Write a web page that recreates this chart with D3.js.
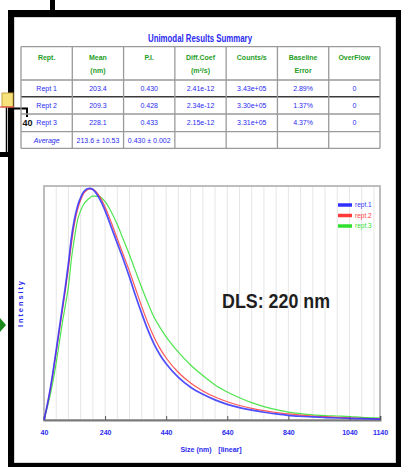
<!DOCTYPE html>
<html>
<head>
<meta charset="utf-8">
<script src="https://cdn.jsdelivr.net/npm/d3@7/dist/d3.min.js"></script>
<style>
  html, body { margin: 0; padding: 0; background: #fff; }
  svg { display: block; }
  .narrow { font-family: "Liberation Sans Narrow", "Arial Narrow", "Liberation Sans", Arial, sans-serif; }
</style>
</head>
<body>
<svg id="chart" width="401" height="469"></svg>
<script>
// ---- summary table ----
const headers = [["Rept."], ["Mean", "(nm)"], ["P.I."], ["Diff.Coef", "(m²/s)"], ["Counts/s"], ["Baseline", "Error"], ["OverFlow"]];
const runNames = ["Rept 1", "Rept 2", "Rept 3"];
const meanSizes = ["203.4", "209.3", "228.1"];
const polyIndex = ["0.430", "0.428", "0.433"];
const diffCoef = ["2.41e-12", "2.34e-12", "2.15e-12"];
const countRates = ["3.43e+05", "3.30e+05", "3.31e+05"];
const baselineErr = ["2.89%", "1.37%", "4.37%"];
const overflow = ["0", "0", "0"];
const averageRow = ["Average", "213.6 ± 10.53", "0.430 ± 0.002", "", "", "", ""];

// ---- size distribution ----
const sizes = [40, 50, 60, 70, 80, 90, 100, 110, 120, 130, 140, 150, 160, 170, 180, 190, 200, 220, 240, 260,
  280, 300, 320, 340, 360, 380, 400, 420, 440, 480, 520, 560, 600, 640, 680, 720, 760, 800, 840, 880, 920,
  960, 1000, 1040, 1080, 1140];
const rept1 = [0, 6, 13, 21, 30, 39, 48, 57, 67, 78, 86, 91.5, 95, 97.5, 98.7, 99, 98.5, 95, 89.5, 82.5,
  75.5, 68.5, 61, 53, 45.5, 38.5, 32.5, 27.8, 24, 18.2, 14, 11, 8.6, 6.7, 5.3, 4.2, 3.3, 2.6, 2.0, 1.6, 1.3,
  1.05, 0.85, 0.7, 0.55, 0.4];
const rept2 = [0, 6, 12.5, 20.5, 29, 38, 46.5, 55.5, 65, 75.5, 84, 90, 94, 96.8, 98.2, 98.8, 98.6, 96, 91, 84.5,
  77.5, 70.5, 63.5, 56, 48.5, 41.5, 35.5, 30.5, 26.5, 20.3, 15.8, 12.4, 9.8, 7.8, 6.2, 5.0, 4.0, 3.2, 2.6, 2.1, 1.7,
  1.4, 1.15, 0.95, 0.75, 0.6];
const rept3 = [0, 5, 10.5, 17, 24.5, 33, 41.5, 49, 57, 69, 78, 85.5, 89.5, 92.2, 93.8, 95, 95.7, 95.6, 93.3, 89,
  83.5, 77, 70.5, 63.5, 56.5, 50, 44, 39.5, 35.5, 29, 23.5, 19, 15, 12, 9.5, 7.4, 5.7, 4.4, 3.4, 2.7, 2.2,
  1.9, 1.7, 1.5, 1.1, 0.8];
const seriesNames = ["rept.1", "rept.2", "rept.3"];
const seriesColors = ["#3030ff", "#ff3a3a", "#30e030"];
const xTicks = [40, 240, 440, 640, 840, 1040, 1140];

const svg = d3.select("#chart");
const BLUE = "#2a2af0", GREEN = "#1f9e1f";

// ---- window frame and side decorations ----
svg.append("rect").attr("x", 50).attr("y", 0).attr("width", 5).attr("height", 12).attr("fill", "#000");
svg.append("rect").attr("x", 14).attr("y", 17).attr("width", 382).attr("height", 446)
  .attr("fill", "#fff").attr("stroke", "#c8c8c8").attr("stroke-width", 1.5);
svg.append("rect").attr("x", 8).attr("y", 10).attr("width", 393).attr("height", 7).attr("fill", "#000");
svg.append("rect").attr("x", 8).attr("y", 10).attr("width", 6).attr("height", 457).attr("fill", "#000");
svg.append("rect").attr("x", 8).attr("y", 463).attr("width", 393).attr("height", 4).attr("fill", "#000");
svg.append("rect").attr("x", 396).attr("y", 10).attr("width", 5).attr("height", 457).attr("fill", "#000");

svg.append("line").attr("x1", 6.5).attr("x2", 6.5).attr("y1", 107).attr("y2", 154)
  .attr("stroke", "#000").attr("stroke-width", 1.5);
svg.append("rect").attr("x", 0).attr("y", 152).attr("width", 9).attr("height", 5).attr("fill", "#000");
svg.append("rect").attr("x", 2).attr("y", 93).attr("width", 11).attr("height", 14)
  .attr("fill", "#f6e27c").attr("stroke", "#c9a23a").attr("stroke-width", 1);
svg.append("line").attr("x1", 0).attr("x2", 14).attr("y1", 107).attr("y2", 107)
  .attr("stroke", "#e04848").attr("stroke-width", 1.2);
svg.append("path").attr("d", "M14,108.5H27V117").attr("fill", "none")
  .attr("stroke", "#000").attr("stroke-width", 2);
svg.append("text").attr("x", 27.5).attr("y", 126).attr("text-anchor", "middle")
  .attr("font-family", "Liberation Sans, Arial, sans-serif").attr("font-size", 9).attr("font-weight", "bold")
  .attr("fill", "#111").text("40");
svg.append("path").attr("d", "M0,318L6,325L0,332Z").attr("fill", "#1b8a1b");

// ---- summary table ----
svg.append("text").attr("class", "narrow").attr("x", 200).attr("y", 41.5).attr("text-anchor", "middle")
  .attr("font-size", 10).attr("font-weight", "bold").attr("fill", BLUE)
  .attr("textLength", 104).attr("lengthAdjust", "spacingAndGlyphs").text("Unimodal Results Summary");

const tx = d3.scaleLinear().domain([0, 7]).range([21, 380]);
const rowEdges = [46.7, 80, 96.7, 114, 131.7, 148.3];
const table = svg.append("g").attr("class", "narrow");

rowEdges.forEach((y, i) => {
  table.append("line").attr("x1", tx(0)).attr("x2", tx(7)).attr("y1", y).attr("y2", y)
    .attr("stroke", i === 2 ? "#3a3a3a" : "#9a9a9a").attr("stroke-width", i === 2 ? 1.6 : 1.3);
});
d3.range(8).forEach(c => {
  table.append("line").attr("x1", tx(c)).attr("x2", tx(c)).attr("y1", rowEdges[0]).attr("y2", rowEdges[5])
    .attr("stroke", "#9a9a9a").attr("stroke-width", 1.3);
});

headers.forEach((lines, c) => {
  lines.forEach((t, k) => {
    table.append("text").attr("x", tx(c + 0.5)).attr("y", 59.5 + k * 13.3).attr("text-anchor", "middle")
      .attr("font-size", 7).attr("font-weight", 600).attr("fill", GREEN).text(t);
  });
});

const bodyRows = runNames.map((n, i) =>
  [n, meanSizes[i], polyIndex[i], diffCoef[i], countRates[i], baselineErr[i], overflow[i]]);
bodyRows.push(averageRow);
bodyRows.forEach((row, r) => {
  const yMid = (rowEdges[r + 1] + rowEdges[r + 2]) / 2;
  row.forEach((t, c) => {
    table.append("text").attr("x", tx(c + 0.5)).attr("y", yMid + 2.5).attr("text-anchor", "middle")
      .attr("font-size", 7).attr("font-style", r === 3 && c === 0 ? "italic" : "normal")
      .attr("fill", BLUE).text(t);
  });
});

// ---- size distribution plot ----
const x = d3.scaleLinear().domain([40, 1140]).range([44, 380]);
const y = d3.scaleLinear().domain([0, 100]).range([420, 186]);

const plot = svg.append("g");
plot.append("rect").attr("x", 44).attr("y", 186).attr("width", 336).attr("height", 234)
  .attr("fill", "#fff").attr("stroke", "#bdbdbd").attr("stroke-width", 2);

plot.selectAll("line.grid").data(d3.range(80, 1140, 40)).join("line").attr("class", "grid")
  .attr("x1", d => x(d)).attr("x2", d => x(d)).attr("y1", 187).attr("y2", 419)
  .attr("stroke", "#e6e6e6").attr("stroke-width", 1);

const xAxis = d3.axisBottom(x).tickValues(xTicks).tickSize(-4).tickPadding(10).tickFormat(d3.format("d"));
const gx = plot.append("g").attr("class", "narrow").attr("transform", "translate(0,420)").call(xAxis);
gx.select(".domain").attr("stroke", "#7a7a7a").attr("stroke-width", 2);
gx.selectAll(".tick line").attr("stroke", "#555").attr("stroke-width", 1);
gx.selectAll(".tick text").attr("font-size", 7).attr("font-weight", 600).attr("fill", BLUE);

svg.append("text").attr("class", "narrow").attr("x", 196).attr("y", 452).attr("text-anchor", "middle")
  .attr("font-size", 7).attr("font-weight", 600).attr("fill", BLUE).text("Size (nm)");
svg.append("text").attr("class", "narrow").attr("x", 230).attr("y", 452).attr("text-anchor", "middle")
  .attr("font-size", 7).attr("font-weight", 600).attr("fill", BLUE).text("[linear]");
svg.append("text").attr("class", "narrow").attr("transform", "translate(22.5,304) rotate(-90)")
  .attr("text-anchor", "middle").attr("font-size", 7.5).attr("font-weight", 600).attr("fill", BLUE)
  .attr("textLength", 46).attr("lengthAdjust", "spacing").text("Intensity");

const line = d3.line().x(d => x(d[0])).y(d => y(d[1])).curve(d3.curveMonotoneX);
const series = [rept1, rept2, rept3];
[2, 1, 0].forEach(i => {
  plot.append("path").datum(sizes.map((s, k) => [s, series[i][k]]))
    .attr("fill", "none").attr("stroke", seriesColors[i])
    .attr("stroke-width", i === 0 ? 1.7 : 1.2).attr("stroke-opacity", 0.85).attr("d", line);
});

// legend
const legend = plot.append("g").attr("class", "narrow");
seriesNames.forEach((n, i) => {
  const ly = 205 + i * 10.5;
  legend.append("line").attr("x1", 338).attr("x2", 352).attr("y1", ly).attr("y2", ly)
    .attr("stroke", seriesColors[i]).attr("stroke-width", 3.5);
  legend.append("text").attr("x", 355).attr("y", ly + 2.3).attr("font-size", 6.5)
    .attr("fill", seriesColors[i]).text(n);
});

svg.append("text").attr("class", "narrow").attr("x", 276).attr("y", 308).attr("text-anchor", "middle")
  .attr("font-size", 21).attr("font-weight", "bold").attr("fill", "#1e1e1e")
  .attr("textLength", 108).attr("lengthAdjust", "spacingAndGlyphs").text("DLS: 220 nm");
</script>
</body>
</html>
